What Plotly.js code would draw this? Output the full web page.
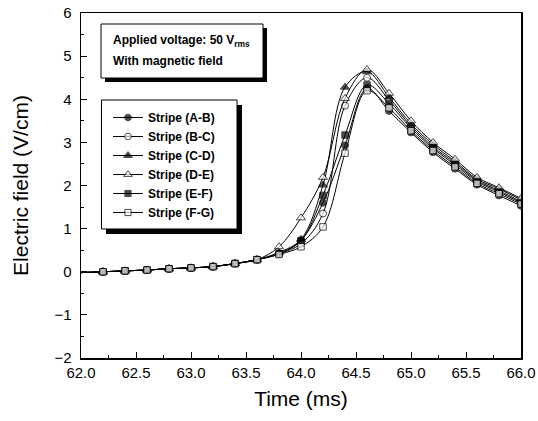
<!DOCTYPE html>
<html>
<head>
<meta charset="utf-8">
<script src="https://cdn.plot.ly/plotly-3.0.1.min.js"></script>
<style>html,body{margin:0;padding:0;background:#fff;}#chart{width:538px;height:421px;}</style>
</head>
<body>
<div id="chart"></div>
<script>
// Time axis (ms)
const time = [62.0, 62.2, 62.4, 62.6, 62.8, 63.0, 63.2, 63.4, 63.6, 63.8, 64.0, 64.2, 64.4, 64.6, 64.8, 65.0, 65.2, 65.4, 65.6, 65.8, 66.0];
// Electric field (V/cm) per stripe
const stripeAB = [-0.02, 0.00, 0.02, 0.04, 0.07, 0.09, 0.12, 0.19, 0.28, 0.42, 0.73, 1.60, 2.93, 4.25, 3.73, 3.23, 2.77, 2.39, 2.02, 1.77, 1.53];
const stripeBC = [-0.02, 0.00, 0.02, 0.04, 0.07, 0.09, 0.12, 0.19, 0.28, 0.42, 0.65, 1.35, 3.85, 4.50, 3.98, 3.38, 2.90, 2.52, 2.12, 1.88, 1.63];
const stripeCD = [-0.02, 0.00, 0.02, 0.04, 0.07, 0.09, 0.12, 0.19, 0.28, 0.45, 0.75, 2.01, 4.28, 4.64, 4.05, 3.43, 2.95, 2.56, 2.15, 1.92, 1.67];
const stripeDE = [-0.02, 0.00, 0.02, 0.04, 0.07, 0.09, 0.12, 0.19, 0.28, 0.58, 1.25, 2.19, 4.02, 4.69, 4.14, 3.50, 3.00, 2.61, 2.19, 1.95, 1.70];
const stripeEF = [-0.02, 0.00, 0.02, 0.04, 0.07, 0.09, 0.12, 0.19, 0.28, 0.42, 0.72, 1.77, 3.17, 4.33, 3.90, 3.33, 2.86, 2.48, 2.09, 1.85, 1.60];
const stripeFG = [-0.02, 0.00, 0.02, 0.04, 0.07, 0.09, 0.12, 0.19, 0.28, 0.40, 0.58, 1.04, 2.75, 4.20, 3.80, 3.27, 2.81, 2.43, 2.05, 1.81, 1.57];
const seriesNames = ['Stripe (A-B)', 'Stripe (B-C)', 'Stripe (C-D)', 'Stripe (D-E)', 'Stripe (E-F)', 'Stripe (F-G)'];

const seriesData = [stripeAB, stripeBC, stripeCD, stripeDE, stripeEF, stripeFG];
const symbols = ['circle', 'circle', 'triangle-up', 'triangle-up', 'square', 'square'];
const fills = ['black', 'white', 'black', 'white', 'black', 'white'];
const sizes = [7, 7, 8, 8, 6.5, 6.5];
const FONT = 'Liberation Sans, Arial, Helvetica, sans-serif';

const traces = seriesData.map((vals, i) => ({
  x: time,
  y: vals,
  name: seriesNames[i],
  type: 'scatter',
  mode: 'lines+markers',
  line: {color: 'black', width: 1, shape: 'spline', smoothing: 1},
  marker: {
    symbol: symbols[i],
    color: fills[i],
    size: time.map((t, k) => k === 0 ? 0 : sizes[i]),
    line: {color: 'black', width: 1}
  }
}));

const W = 440, H = 345, L = 81, T = 13;
const px = v => (v - L) / W;
const py = v => (T + H - v) / H;

const layout = {
  width: 538, height: 421,
  margin: {l: L, r: 17, t: T, b: 63},
  paper_bgcolor: 'white', plot_bgcolor: 'white',
  font: {family: FONT, color: 'black'},
  showlegend: true,
  legend: {
    x: px(108), y: py(103), xanchor: 'left', yanchor: 'top',
    bgcolor: 'rgba(0,0,0,0)', borderwidth: 0,
    font: {family: FONT, size: 12, weight: 'bold', color: 'black'},
    itemwidth: 30
  },
  xaxis: {
    range: [62.0, 66.0], dtick: 0.5, tick0: 62, tickformat: '.1f',
    ticks: 'inside', ticklen: 6, tickwidth: 1, tickcolor: 'black',
    minor: {dtick: 0.25, ticks: 'inside', ticklen: 3, tickcolor: 'black'},
    showline: true, linecolor: 'black', linewidth: 1.5, mirror: true,
    showgrid: false, zeroline: false,
    tickfont: {family: FONT, size: 15},
    title: {text: 'Time (ms)', font: {family: FONT, size: 21}, standoff: 12}
  },
  yaxis: {
    range: [-2, 6], dtick: 1,
    ticks: 'inside', ticklen: 6, tickwidth: 1, tickcolor: 'black',
    minor: {dtick: 0.5, ticks: 'inside', ticklen: 3, tickcolor: 'black'},
    showline: true, linecolor: 'black', linewidth: 1.5, mirror: true,
    showgrid: false, zeroline: false,
    tickfont: {family: FONT, size: 15},
    ticklabelstandoff: 5,
    title: {text: 'Electric field (V/cm)', font: {family: FONT, size: 21}, standoff: 20}
  },
  shapes: [
    // info box shadow + box
    {type: 'rect', xref: 'paper', yref: 'paper', x0: px(105), x1: px(267), y0: py(82), y1: py(28),
     fillcolor: 'black', line: {width: 0}, layer: 'above'},
    {type: 'rect', xref: 'paper', yref: 'paper', x0: px(101), x1: px(263), y0: py(78), y1: py(24),
     fillcolor: 'white', line: {color: 'black', width: 1}, layer: 'above'},
    // legend box shadow + box
    {type: 'rect', xref: 'paper', yref: 'paper', x0: px(106), x1: px(242), y0: py(234), y1: py(105),
     fillcolor: 'black', line: {width: 0}, layer: 'above'},
    {type: 'rect', xref: 'paper', yref: 'paper', x0: px(101.5), x1: px(237), y0: py(229), y1: py(100),
     fillcolor: 'white', line: {color: 'black', width: 1}, layer: 'above'}
  ],
  annotations: [
    {xref: 'paper', yref: 'paper', x: px(111), y: py(41), xanchor: 'left', yanchor: 'middle',
     showarrow: false, text: 'Applied voltage: 50 V<sub>rms</sub>',
     font: {family: FONT, size: 12, weight: 'bold', color: 'black'}},
    {xref: 'paper', yref: 'paper', x: px(111), y: py(61), xanchor: 'left', yanchor: 'middle',
     showarrow: false, text: 'With magnetic field',
     font: {family: FONT, size: 12, weight: 'bold', color: 'black'}}
  ]
};

Plotly.newPlot('chart', traces, layout, {staticPlot: true, displayModeBar: false});
</script>
</body>
</html>
